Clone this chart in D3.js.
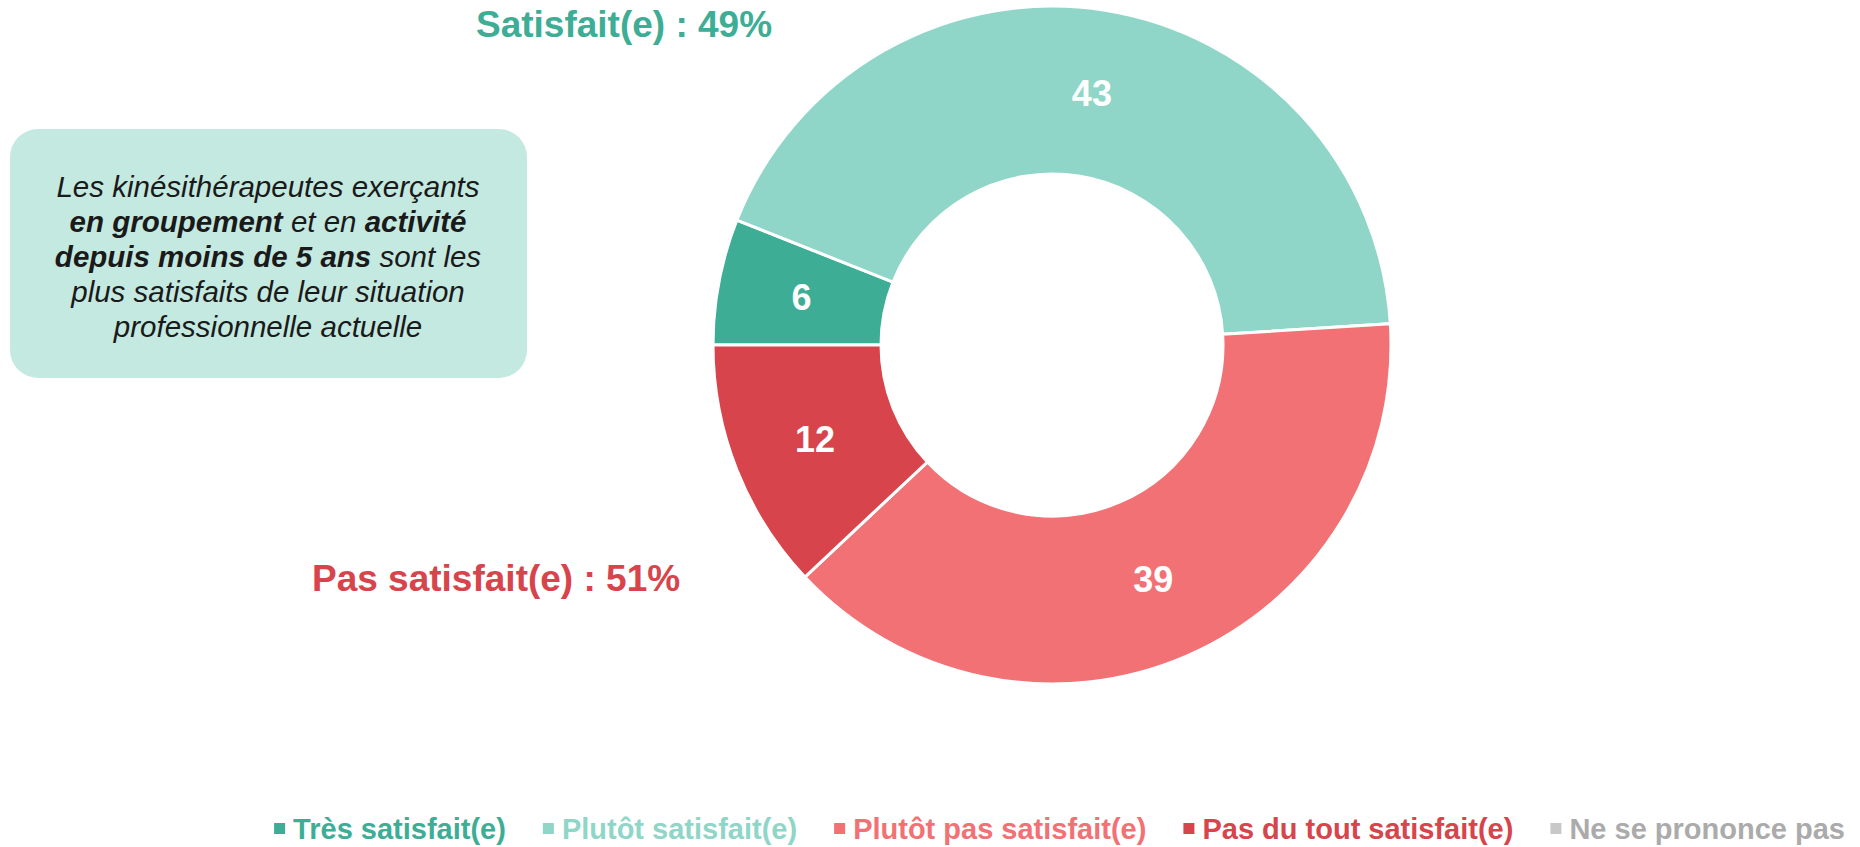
<!DOCTYPE html>
<html><head><meta charset="utf-8">
<script src="https://cdn.jsdelivr.net/npm/d3@7"></script>
<style>
html,body{margin:0;padding:0;background:#fff;}
svg{display:block;font-family:"Liberation Sans",Arial,Helvetica,sans-serif;}
</style></head>
<body><svg id="chart" width="1860" height="847"></svg>
<script>
const categories = ["Très satisfait(e)", "Plutôt satisfait(e)", "Plutôt pas satisfait(e)", "Pas du tout satisfait(e)", "Ne se prononce pas"];
const values = [6, 43, 39, 12, 0];
const colors = ["#3DAE95", "#8FD6C8", "#F27174", "#D7444B", "#C8C8C8"];
const legendTextColors = ["#3DAE95", "#8FD6C8", "#F27174", "#D7444B", "#ABABAB"];
const groupLabels = ["Satisfait(e) : 49%", "Pas satisfait(e) : 51%"];
const groupColors = ["#3DAE95", "#D7444B"];
const noteLines = [
  [["Les kinésithérapeutes exerçants", false]],
  [["en groupement", true], [" et en ", false], ["activité", true]],
  [["depuis moins de 5 ans", true], [" sont les", false]],
  [["plus satisfaits de leur situation", false]],
  [["professionnelle actuelle", false]]
];

const svg = d3.select("#chart");
const cx = 1052, cy = 345, R = 339, r = 171;

const pie = d3.pie().sort(null).value(d => d.v)
  .startAngle(-Math.PI / 2).endAngle(3 * Math.PI / 2);
const data = categories.map((c, i) => ({c, v: values[i], color: colors[i]}));
const arcs = pie(data).filter(d => d.data.v > 0);
const arc = d3.arc().innerRadius(r).outerRadius(R);

const g = svg.append("g").attr("transform", `translate(${cx},${cy})`);
g.selectAll("path").data(arcs).join("path")
  .attr("d", arc)
  .attr("fill", d => d.data.color)
  .attr("stroke", "#fff")
  .attr("stroke-width", 3);
g.selectAll("text").data(arcs).join("text")
  .attr("x", d => arc.centroid(d)[0])
  .attr("y", d => arc.centroid(d)[1])
  .attr("dy", "0.36em")
  .attr("text-anchor", "middle")
  .attr("fill", "#fff")
  .attr("font-weight", "bold")
  .attr("font-size", 36)
  .text(d => d.data.v);

// group labels
svg.append("text").attr("x", 476).attr("y", 37)
  .attr("font-size", 37).attr("font-weight", "bold").attr("fill", groupColors[0])
  .text(groupLabels[0]);
svg.append("text").attr("x", 312).attr("y", 591)
  .attr("font-size", 37).attr("font-weight", "bold").attr("fill", groupColors[1])
  .text(groupLabels[1]);

// note box
svg.append("rect").attr("x", 10).attr("y", 129).attr("width", 517).attr("height", 249)
  .attr("rx", 28).attr("ry", 28).attr("fill", "#C4E9E0");
const note = svg.append("text").attr("text-anchor", "middle")
  .attr("font-size", 29.5).attr("font-style", "italic").attr("fill", "#1a1a1a");
noteLines.forEach((line, i) => {
  line.forEach(([s, b], j) => {
    const sp = note.append("tspan").text(s).attr("font-weight", b ? "bold" : "normal");
    if (j === 0) sp.attr("x", 268).attr("y", 197 + i * 35);
  });
});

// legend
const legend = svg.append("g");
const items = categories.map((c, i) => {
  const gi = legend.append("g");
  gi.append("rect").attr("width", 11).attr("height", 11).attr("y", -6).attr("fill", colors[i]);
  const t = gi.append("text").attr("x", 19).attr("dy", "0.36em")
    .attr("font-size", 29).attr("font-weight", "bold").attr("fill", legendTextColors[i]).text(c);
  return {gi, w: 19 + t.node().getComputedTextLength()};
});
const gap = 37;
const total = d3.sum(items, d => d.w) + gap * (items.length - 1);
let x = 1845 - total;
items.forEach(it => {
  it.gi.attr("transform", `translate(${x},829)`);
  x += it.w + gap;
});
</script>
</body></html>
